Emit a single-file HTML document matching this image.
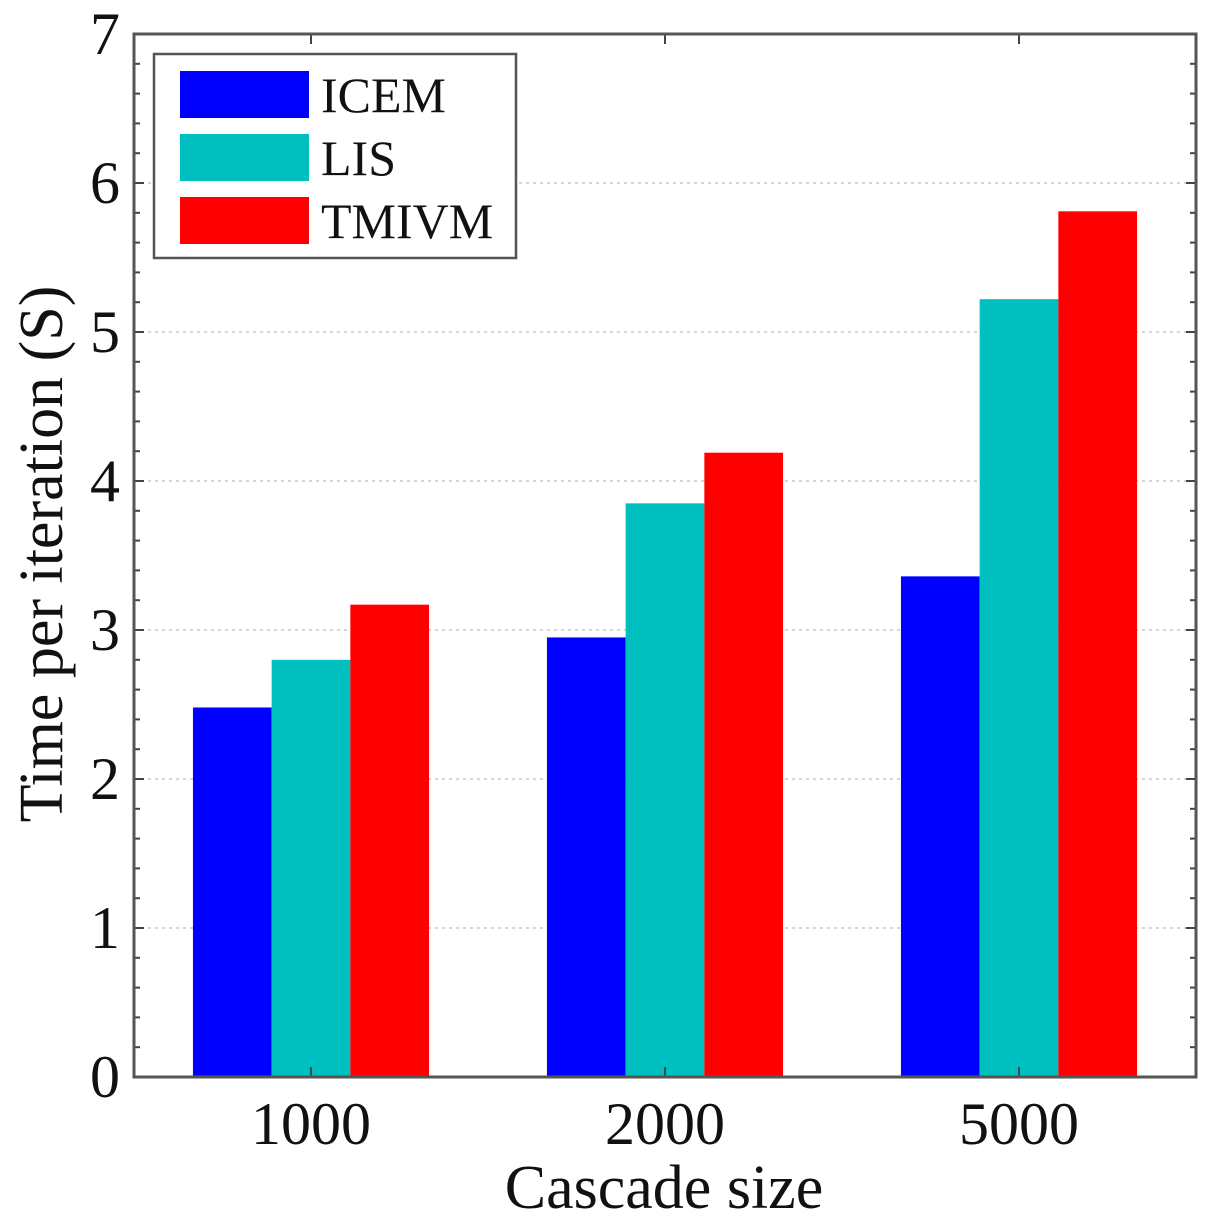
<!DOCTYPE html>
<html><head><meta charset="utf-8"><style>
html,body{margin:0;padding:0;background:#fff}
svg{display:block}
text{font-family:"Liberation Serif",serif;fill:#111}
</style></head><body>
<svg id="chart" width="1221" height="1228" viewBox="0 0 1221 1228">
<g id="grid"></g>
<g id="bars"></g>
<g id="axes"></g>
<text x="664" y="1208" font-size="62" text-anchor="middle">Cascade size</text>
<text transform="translate(62,554) rotate(-90)" font-size="62" text-anchor="middle">Time per iteration (S)</text>
<g id="legend">
<rect x="154" y="54" width="362" height="204" fill="#fff" stroke="#555" stroke-width="2.5"/>
</g>
</svg>
<script>
const categories = ["1000", "2000", "5000"];
const seriesNames = ["ICEM", "LIS", "TMIVM"];
const icemValues = [2.48, 2.95, 3.36];
const lisValues = [2.80, 3.85, 5.22];
const tmivmValues = [3.17, 4.19, 5.81];
const yTickLabels = ["0","1","2","3","4","5","6","7"];

const colors = ["#0000ff", "#00bfbf", "#ff0000"];
const series = [icemValues, lisValues, tmivmValues];
const NS = "http://www.w3.org/2000/svg";
const L = 134, R = 1196, T = 34, B = 1077;
const yMax = 7;
function y(v){ return B - v / yMax * (B - T); }
const groupW = (R - L) / categories.length;
function xCenter(i){ return L + groupW * (i + 0.5); }
const barW = 78.7;
function mk(tag, attrs, parent){
  const e = document.createElementNS(NS, tag);
  for (const k in attrs) e.setAttribute(k, attrs[k]);
  parent.appendChild(e); return e;
}
const grid = document.getElementById('grid');
const bars = document.getElementById('bars');
const axes = document.getElementById('axes');
const legend = document.getElementById('legend');

yTickLabels.forEach((lab, i) => {
  const v = +lab, yy = y(v);
  if (v > 0 && v < yMax) {
    const g = mk('line', {x1:L, x2:R, y1:yy, y2:yy, stroke:'#c8c8c8', 'stroke-width':1.5, 'stroke-dasharray':'3 4'}, grid);
    
    
  }
  const t = mk('text', {x:120, y:yy + 20, 'font-size':60, 'text-anchor':'end'}, axes);
  t.textContent = lab;
  
  
});
for (let v = 0; v <= yMax + 1e-9; v += 0.2) {
  const yy = y(v), major = Math.abs(v - Math.round(v)) < 1e-6, len = major ? 10 : 6;
  mk('line', {x1:L, x2:L + len, y1:yy, y2:yy, stroke:'#444', 'stroke-width':2}, axes);
  mk('line', {x1:R, x2:R - len, y1:yy, y2:yy, stroke:'#444', 'stroke-width':2}, axes);
}

categories.forEach((c, i) => {
  const cx = xCenter(i);
  series.forEach((vals, s) => {
    const x0 = cx - 1.5 * barW + s * barW;
    const r = mk('rect', {x:x0, y:y(vals[i]), width:barW, height:B - y(vals[i]), fill:colors[s]}, bars);
    
    
  });
  mk('line', {x1:cx, x2:cx, y1:B, y2:B - 10, stroke:'#444', 'stroke-width':2}, axes);
  mk('line', {x1:cx, x2:cx, y1:T, y2:T + 10, stroke:'#444', 'stroke-width':2}, axes);
  const t = mk('text', {x:cx, y:1144, 'font-size':60, 'text-anchor':'middle'}, axes);
  t.textContent = c;
  
  
});
const frame = mk('rect', {x:L, y:T, width:R - L, height:B - T, fill:'none', stroke:'#555', 'stroke-width':3}, axes);



seriesNames.forEach((n, s) => {
  const yy = 71 + s * 63;
  const sw = mk('rect', {x:180, y:yy, width:129, height:47, fill:colors[s]}, legend);
  
  
  const t = mk('text', {x:321, y:yy + 41, 'font-size':50}, legend);
  t.textContent = n;
  
  
});
</script>
</body></html>
